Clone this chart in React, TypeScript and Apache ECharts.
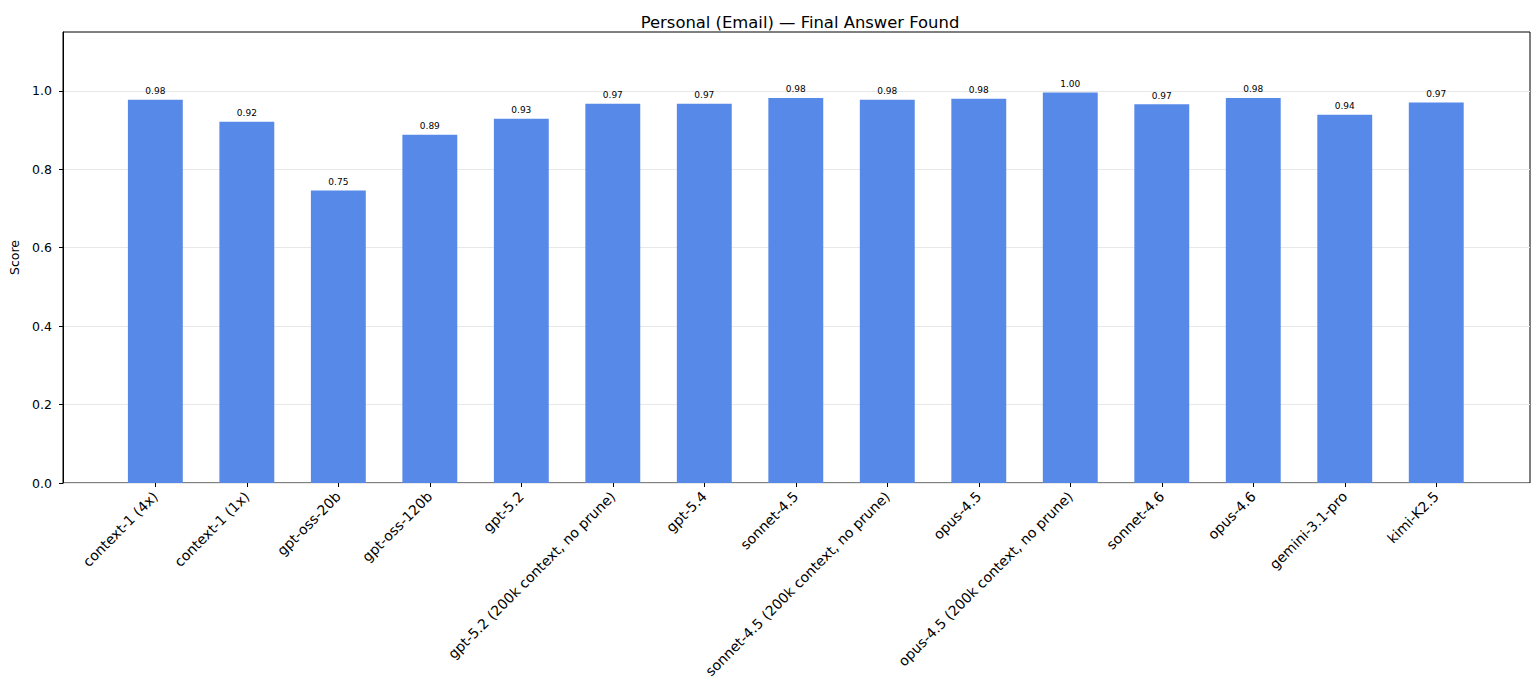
import React, { useEffect, useRef } from "react";
import * as echarts from "echarts";

const categories = [
  "context-1 (4x)",
  "context-1 (1x)",
  "gpt-oss-20b",
  "gpt-oss-120b",
  "gpt-5.2",
  "gpt-5.2 (200k context, no prune)",
  "gpt-5.4",
  "sonnet-4.5",
  "sonnet-4.5 (200k context, no prune)",
  "opus-4.5",
  "opus-4.5 (200k context, no prune)",
  "sonnet-4.6",
  "opus-4.6",
  "gemini-3.1-pro",
  "kimi-K2.5",
];

const scores = [0.977, 0.921, 0.746, 0.888, 0.929, 0.967, 0.967, 0.982, 0.977, 0.98, 0.996, 0.966, 0.982, 0.939, 0.97];

const yTicks = [0, 0.2, 0.4, 0.6, 0.8, 1.0];

const FONT = "DejaVu Sans";

export default function App() {
  const ref = useRef<HTMLDivElement>(null);

  useEffect(() => {
    document.body.style.margin = "0";
    if (!ref.current) return;
    const chart = echarts.init(ref.current, undefined, { renderer: "svg" });
    const yMax = 1.15;
    chart.setOption({
      animation: false,
      backgroundColor: "#ffffff",
      textStyle: { fontFamily: FONT },
      title: {
        text: "Personal (Email) — Final Answer Found",
        left: 795,
        textAlign: "center",
        top: 9,
        textStyle: { fontFamily: FONT, fontSize: 16.4, fontWeight: "normal", color: "#000" },
      },
      grid: [
        { left: 61, right: 9, top: 32, bottom: 207, show: true, borderColor: "#000", borderWidth: 1, backgroundColor: "transparent" },
        { left: 109.6, right: 57, top: 32, bottom: 207 },
      ],
      xAxis: [
        { type: "value", gridIndex: 0, min: 0, max: 1, show: false },
        {
          type: "category",
          gridIndex: 1,
          data: categories,
          boundaryGap: true,
          axisLine: { show: false },
          axisTick: { show: true, alignWithLabel: true, length: 4, lineStyle: { color: "#000" } },
          axisLabel: {
            rotate: 45,
            interval: 0,
            margin: 11,
            fontFamily: FONT,
            fontSize: 14,
            color: "#000",
          },
        },
      ],
      yAxis: [
        {
          type: "value",
          gridIndex: 0,
          min: 0,
          max: yMax,
          interval: 0.2,
          name: "Score",
          nameLocation: "middle",
          nameGap: 42,
          nameRotate: 90,
          nameTextStyle: { fontFamily: FONT, fontSize: 12.5, color: "#000" },
          axisLine: { show: true, lineStyle: { color: "#000" } },
          axisTick: { show: true, length: 4, lineStyle: { color: "#000" }, customValues: yTicks },
          axisLabel: {
            margin: 11,
            fontFamily: FONT,
            fontSize: 12.5,
            color: "#000",
            customValues: yTicks,
            formatter: (v: number) => v.toFixed(1),
          },
          splitLine: { show: true, lineStyle: { color: "#e8e8e8", width: 1 } },
        },
        { type: "value", gridIndex: 1, min: 0, max: yMax, show: false, splitLine: { show: false } },
      ],
      series: [
        {
          type: "bar",
          xAxisIndex: 1,
          yAxisIndex: 1,
          data: scores,
          barWidth: "60%",
          itemStyle: { color: "#5789e8" },
          label: {
            show: true,
            position: "top",
            distance: 4,
            fontFamily: FONT,
            fontSize: 9,
            color: "#000",
            formatter: (p: any) => (p.value as number).toFixed(2),
          },
        },
      ],
    });
    return () => chart.dispose();
  }, []);

  return <div ref={ref} style={{ width: 1539, height: 690 }} />;
}
